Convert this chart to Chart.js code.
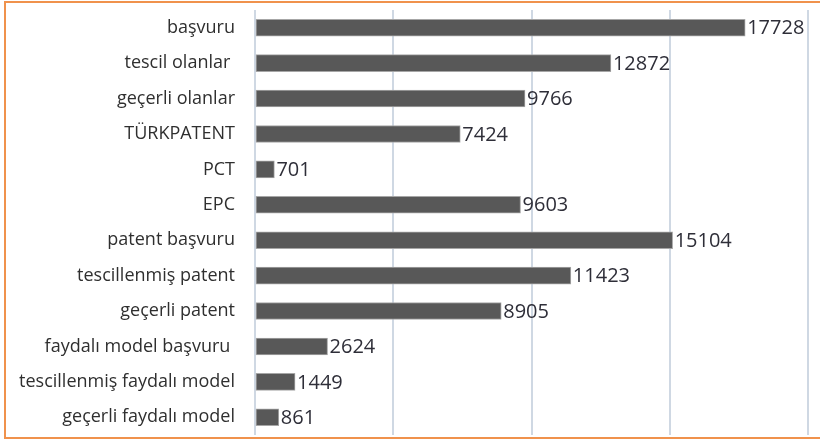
<!DOCTYPE html>
<html>
<head>
<meta charset="utf-8">
<script src="https://cdn.jsdelivr.net/npm/chart.js@4"></script>
<style>
  body { margin: 0; background: #fff; }
  #wrap { position: relative; width: 820px; height: 440px; }
  #frame {
    position: absolute; left: 4px; top: 1px; width: 830px; height: 434px;
    border: 2px solid #f0924c; pointer-events: none;
  }
</style>
</head>
<body>
<div id="wrap">
  <canvas id="chart" width="820" height="440"></canvas>
  <div id="frame"></div>
</div>
<script>
// data
const categories = ["başvuru", "tescil olanlar ", "geçerli olanlar", "TÜRKPATENT", "PCT", "EPC",
  "patent başvuru", "tescillenmiş patent", "geçerli patent", "faydalı model başvuru ",
  "tescillenmiş faydalı model", "geçerli faydalı model"];
const values = [17728, 12872, 9766, 7424, 701, 9603, 15104, 11423, 8905, 2624, 1449, 861];
const xTicks = [0, 5000, 10000, 15000, 20000];

// value labels at the end of each bar
const valueLabels = {
  id: "valueLabels",
  afterDatasetsDraw(chart) {
    const ctx = chart.ctx;
    const meta = chart.getDatasetMeta(0);
    ctx.save();
    ctx.font = "20px 'Open Sans'";
    ctx.fillStyle = "#2e2e38";
    ctx.textAlign = "left";
    ctx.textBaseline = "middle";
    meta.data.forEach((bar, i) => {
      ctx.fillText(values[i], bar.x + 2, bar.y + 1);
    });
    ctx.restore();
  }
};

const ctx = document.getElementById("chart").getContext("2d");
new Chart(ctx, {
  type: "bar",
  data: {
    labels: categories,
    datasets: [
      {
        data: values,
        backgroundColor: "#585858",
        borderColor: "#a6a6a6",
        borderWidth: 1,
        borderSkipped: false,
        barThickness: 17
      }
    ]
  },
  options: {
    indexAxis: "y",
    responsive: false,
    animation: false,
    layout: { padding: { left: 0, right: 12, top: 10, bottom: 5 } },
    plugins: { legend: { display: false }, tooltip: { enabled: false } },
    scales: {
      x: {
        min: 0,
        max: 20000,
        afterBuildTicks: (scale) => { scale.ticks = xTicks.map(v => ({ value: v })); },
        afterFit: (scale) => { scale.height = 0; scale.paddingLeft = 0; scale.paddingRight = 0; },
        ticks: { display: false },
        grid: { color: "#cfd8e3", lineWidth: 2, drawTicks: false },
        border: { display: false }
      },
      y: {
        afterFit: (scale) => { scale.width = 255; scale.paddingTop = 0; scale.paddingBottom = 0; },
        ticks: { color: "#2f2f2f", font: { family: "'Open Sans'", size: 18 }, padding: 20 },
        grid: { display: false, drawTicks: false },
        border: { display: false }
      }
    }
  },
  plugins: [valueLabels]
});
</script>
</body>
</html>
